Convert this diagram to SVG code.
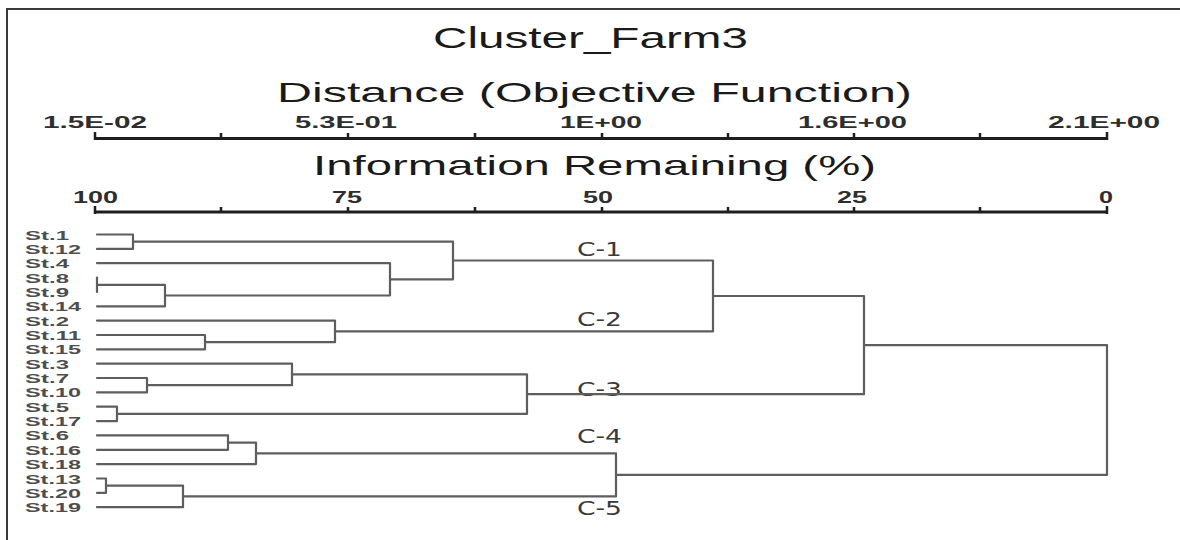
<svg xmlns="http://www.w3.org/2000/svg" width="1180" height="540" viewBox="0 0 1180 540">
  <style>
    .frame { fill: none; stroke: #3a3a3a; stroke-width: 2; }
    .axis { fill: none; stroke: #1e1e1e; stroke-width: 3; stroke-linecap: butt; }
    .tick { fill: none; stroke: #1e1e1e; stroke-width: 2.5; }
    .link { fill: none; stroke: #5e5e5e; stroke-width: 2.2; stroke-linejoin: round; stroke-linecap: round; }
    .title { font-family: "Liberation Sans", Arial, sans-serif; font-size: 30px; fill: #1a1a1a; }
    .heading { font-family: "Liberation Sans", Arial, sans-serif; font-size: 28px; fill: #1a1a1a; }
    .ticklab { font-family: "Liberation Sans", Arial, sans-serif; font-size: 16px; font-weight: bold; fill: #2e2e2e; }
    .leaf { font-family: "Liberation Sans", Arial, sans-serif; font-size: 12.5px; font-weight: bold; fill: #4e4e4e; }
    .clab { font-family: "DejaVu Sans", "Liberation Sans", sans-serif; font-size: 20px; fill: #3a3a3a; }
  </style>

  <rect x="0" y="0" width="1180" height="540" fill="#ffffff"/>
  <!-- outer frame: top and left edges -->
  <path class="frame" d="M7 540 V9 H1180"/>

  <!-- titles -->
  <text class="title" x="433" y="48" textLength="315" lengthAdjust="spacingAndGlyphs">Cluster_Farm3</text>
  <text class="heading" x="277" y="102" textLength="635" lengthAdjust="spacingAndGlyphs">Distance (Objective Function)</text>
  <text class="heading" x="313" y="175" textLength="563" lengthAdjust="spacingAndGlyphs">Information Remaining (%)</text>

  <!-- distance axis -->
  <g id="axis-distance">
    <path class="axis" d="M94 138.5 H1108"/>
    <path class="tick" d="M95 132 V140 M221 133 V138 M348 133 V138 M475 133 V138 M602 133 V138 M728 133 V138 M854 133 V138 M980 133 V138 M1107 132 V140"/>
    <text class="ticklab" x="43" y="128" textLength="104" lengthAdjust="spacingAndGlyphs">1.5E-02</text>
    <text class="ticklab" x="295" y="128" textLength="102" lengthAdjust="spacingAndGlyphs">5.3E-01</text>
    <text class="ticklab" x="560" y="128" textLength="82" lengthAdjust="spacingAndGlyphs">1E+00</text>
    <text class="ticklab" x="798" y="128" textLength="109" lengthAdjust="spacingAndGlyphs">1.6E+00</text>
    <text class="ticklab" x="1048" y="128" textLength="112" lengthAdjust="spacingAndGlyphs">2.1E+00</text>
  </g>

  <!-- information remaining axis -->
  <g id="axis-information">
    <path class="axis" d="M94 212 H1108"/>
    <path class="tick" d="M95 206 V214 M221 207 V212 M348 207 V212 M475 207 V212 M602 207 V212 M728 207 V212 M854 207 V212 M980 207 V212 M1107 206 V214"/>
    <text class="ticklab" x="73" y="203" textLength="45" lengthAdjust="spacingAndGlyphs" style="font-size:17px">100</text>
    <text class="ticklab" x="332" y="203" textLength="30" lengthAdjust="spacingAndGlyphs" style="font-size:17px">75</text>
    <text class="ticklab" x="583" y="203" textLength="30" lengthAdjust="spacingAndGlyphs" style="font-size:17px">50</text>
    <text class="ticklab" x="837" y="203" textLength="30" lengthAdjust="spacingAndGlyphs" style="font-size:17px">25</text>
    <text class="ticklab" x="1099" y="203" textLength="14" lengthAdjust="spacingAndGlyphs" style="font-size:17px">0</text>
  </g>

  <!-- station leaves -->
  <g id="st1"><text class="leaf" x="25" y="239.5" textLength="44" lengthAdjust="spacingAndGlyphs">St.1</text></g>
  <g id="st12"><text class="leaf" x="25" y="253.9" textLength="56" lengthAdjust="spacingAndGlyphs">St.12</text></g>
  <g id="st4"><text class="leaf" x="25" y="268.2" textLength="44" lengthAdjust="spacingAndGlyphs">St.4</text></g>
  <g id="st8"><text class="leaf" x="25" y="282.6" textLength="44" lengthAdjust="spacingAndGlyphs">St.8</text></g>
  <g id="st9"><text class="leaf" x="25" y="296.9" textLength="44" lengthAdjust="spacingAndGlyphs">St.9</text></g>
  <g id="st14"><text class="leaf" x="25" y="311.3" textLength="56" lengthAdjust="spacingAndGlyphs">St.14</text></g>
  <g id="st2"><text class="leaf" x="25" y="325.6" textLength="44" lengthAdjust="spacingAndGlyphs">St.2</text></g>
  <g id="st11"><text class="leaf" x="25" y="340" textLength="56" lengthAdjust="spacingAndGlyphs">St.11</text></g>
  <g id="st15"><text class="leaf" x="25" y="354.3" textLength="56" lengthAdjust="spacingAndGlyphs">St.15</text></g>
  <g id="st3"><text class="leaf" x="25" y="368.7" textLength="44" lengthAdjust="spacingAndGlyphs">St.3</text></g>
  <g id="st7"><text class="leaf" x="25" y="383" textLength="44" lengthAdjust="spacingAndGlyphs">St.7</text></g>
  <g id="st10"><text class="leaf" x="25" y="397.4" textLength="56" lengthAdjust="spacingAndGlyphs">St.10</text></g>
  <g id="st5"><text class="leaf" x="25" y="411.7" textLength="44" lengthAdjust="spacingAndGlyphs">St.5</text></g>
  <g id="st17"><text class="leaf" x="25" y="426.1" textLength="56" lengthAdjust="spacingAndGlyphs">St.17</text></g>
  <g id="st6"><text class="leaf" x="25" y="440.4" textLength="44" lengthAdjust="spacingAndGlyphs">St.6</text></g>
  <g id="st16"><text class="leaf" x="25" y="454.8" textLength="56" lengthAdjust="spacingAndGlyphs">St.16</text></g>
  <g id="st18"><text class="leaf" x="25" y="469.1" textLength="56" lengthAdjust="spacingAndGlyphs">St.18</text></g>
  <g id="st13"><text class="leaf" x="25" y="483.5" textLength="56" lengthAdjust="spacingAndGlyphs">St.13</text></g>
  <g id="st20"><text class="leaf" x="25" y="497.8" textLength="56" lengthAdjust="spacingAndGlyphs">St.20</text></g>
  <g id="st19"><text class="leaf" x="25" y="512.2" textLength="56" lengthAdjust="spacingAndGlyphs">St.19</text></g>

  <!-- cluster labels -->
  <g id="c1"><text class="clab" x="577" y="256" textLength="45" lengthAdjust="spacingAndGlyphs">C-1</text></g>
  <g id="c2"><text class="clab" x="577" y="326" textLength="45" lengthAdjust="spacingAndGlyphs">C-2</text></g>
  <g id="c3"><text class="clab" x="577" y="396" textLength="45" lengthAdjust="spacingAndGlyphs">C-3</text></g>
  <g id="c4"><text class="clab" x="577" y="443" textLength="45" lengthAdjust="spacingAndGlyphs">C-4</text></g>
  <g id="c5"><text class="clab" x="577" y="515" textLength="45" lengthAdjust="spacingAndGlyphs">C-5</text></g>

  <!-- dendrogram links: each path joins two branches at a fusion level -->
  <g id="connectors">
    <path class="link" d="M97 234.5 H133 V248.9 H97"/>
    <path class="link" d="M97 277.6 V291.9"/>
    <path class="link" d="M97 284.8 H165 V306.3 H97"/>
    <path class="link" d="M97 263.2 H390 V295.5 H165"/>
    <path class="link" d="M133 241.7 H453 V279.4 H390"/>
    <path class="link" d="M97 335 H205 V349.3 H97"/>
    <path class="link" d="M97 320.6 H335 V342.2 H205"/>
    <path class="link" d="M453 260.5 H713 V331.4 H335"/>
    <path class="link" d="M97 378 H147 V392.4 H97"/>
    <path class="link" d="M97 363.7 H292 V385.2 H147"/>
    <path class="link" d="M97 406.7 H117 V421.1 H97"/>
    <path class="link" d="M292 374.4 H527 V413.9 H117"/>
    <path class="link" d="M713 296 H864 V394.2 H527"/>
    <path class="link" d="M97 435.4 H228 V449.8 H97"/>
    <path class="link" d="M228 442.6 H256 V464.1 H97"/>
    <path class="link" d="M97 478.5 H106 V492.8 H97"/>
    <path class="link" d="M106 485.6 H183 V507.2 H97"/>
    <path class="link" d="M256 453.4 H616 V496.4 H183"/>
    <path class="link" d="M864 345.1 H1107 V474.9 H616"/>
  </g>
</svg>
